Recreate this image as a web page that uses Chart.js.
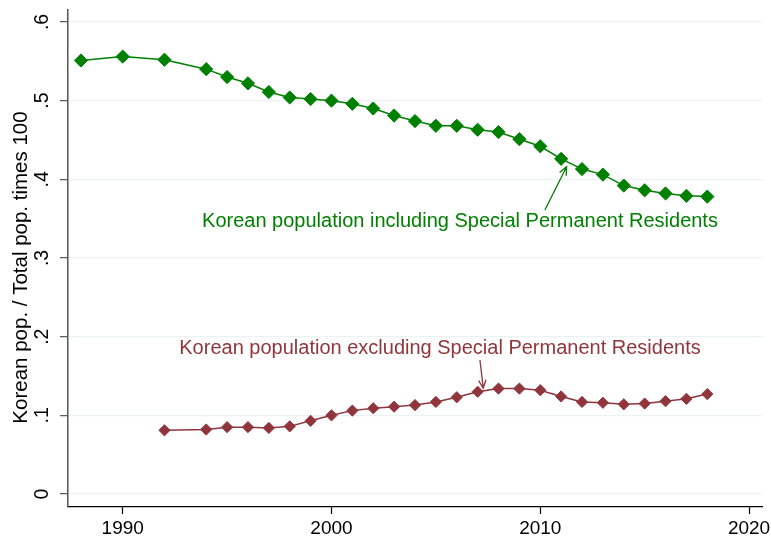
<!DOCTYPE html>
<html>
<head>
<meta charset="utf-8">
<script src="https://cdn.jsdelivr.net/npm/chart.js@4.4.1/dist/chart.umd.min.js"></script>
<style>
  html, body { margin: 0; padding: 0; background: #ffffff; }
  #wrap { width: 771px; height: 539px; }
</style>
</head>
<body>
<div id="wrap"><canvas id="c" width="771" height="539"></canvas></div>
<script>
// ---------------- data ----------------
const yearsIncl = [1988, 1990, 1992, 1994, 1995, 1996, 1997, 1998, 1999, 2000, 2001, 2002, 2003,
  2004, 2005, 2006, 2007, 2008, 2009, 2010, 2011, 2012, 2013, 2014, 2015, 2016, 2017, 2018];
const valuesIncl = [0.551, 0.556, 0.552, 0.540, 0.530, 0.522, 0.511, 0.504, 0.502, 0.500, 0.496, 0.490, 0.481,
  0.474, 0.468, 0.468, 0.463, 0.460, 0.451, 0.442, 0.426, 0.413, 0.406, 0.392, 0.386, 0.382, 0.379, 0.378];

const yearsExcl = [1992, 1994, 1995, 1996, 1997, 1998, 1999, 2000, 2001, 2002, 2003, 2004, 2005,
  2006, 2007, 2008, 2009, 2010, 2011, 2012, 2013, 2014, 2015, 2016, 2017, 2018];
const valuesExcl = [0.081, 0.082, 0.085, 0.085, 0.084, 0.086, 0.093, 0.100, 0.106, 0.109, 0.111, 0.113, 0.117,
  0.123, 0.130, 0.134, 0.134, 0.132, 0.124, 0.117, 0.116, 0.114, 0.115, 0.118, 0.121, 0.127];

const xTickValues = [1990, 2000, 2010, 2020];
const yTickValues = [0, 0.1, 0.2, 0.3, 0.4, 0.5, 0.6];
const yTickLabels = ['0', '.1', '.2', '.3', '.4', '.5', '.6'];

const labelIncl = 'Korean population including Special Permanent Residents';
const labelExcl = 'Korean population excluding Special Permanent Residents';
const yTitle = 'Korean pop. / Total pop. times 100';

// ---------------- styles ----------------
const GREEN = '#008000';
const RED = '#90353b';
const FONT = '"Liberation Sans", Arial, Helvetica, sans-serif';

// annotation placements (data units)
const annotations = [
  { text: labelIncl, color: GREEN, x: 1993.80, y: 0.340,
    arrowFrom: [2010.22, 0.361], arrowTo: [2011.26, 0.416] },
  { text: labelExcl, color: RED, x: 1992.71, y: 0.1776,
    arrowFrom: [2007.11, 0.1703], arrowTo: [2007.27, 0.1344] }
];

const annotationPlugin = {
  id: 'annot',
  afterDatasetsDraw(chart) {
    const ctx = chart.ctx;
    const xs = chart.scales.x, ys = chart.scales.y;
    ctx.save();
    annotations.forEach(a => {
      ctx.font = '20px ' + FONT;
      ctx.fillStyle = a.color;
      ctx.textAlign = 'left';
      ctx.textBaseline = 'alphabetic';
      ctx.fillText(a.text, xs.getPixelForValue(a.x), ys.getPixelForValue(a.y));
      const x1 = xs.getPixelForValue(a.arrowFrom[0]), y1 = ys.getPixelForValue(a.arrowFrom[1]);
      const x2 = xs.getPixelForValue(a.arrowTo[0]), y2 = ys.getPixelForValue(a.arrowTo[1]);
      ctx.strokeStyle = a.color;
      ctx.lineWidth = 1.3;
      ctx.beginPath();
      ctx.moveTo(x1, y1); ctx.lineTo(x2, y2);
      const ang = Math.atan2(y2 - y1, x2 - x1);
      const L = 9, spread = 0.42;
      ctx.moveTo(x2 - L * Math.cos(ang - spread), y2 - L * Math.sin(ang - spread));
      ctx.lineTo(x2, y2);
      ctx.lineTo(x2 - L * Math.cos(ang + spread), y2 - L * Math.sin(ang + spread));
      ctx.stroke();
    });
    // y axis title
    const ca = chart.chartArea;
    ctx.translate(ys.left + 21.5, (ca.top + ca.bottom) / 2 + 9);
    ctx.rotate(-Math.PI / 2);
    ctx.font = '20.5px ' + FONT;
    ctx.fillStyle = '#000';
    ctx.textAlign = 'center';
    ctx.textBaseline = 'middle';
    ctx.fillText(yTitle, 0, 0);
    ctx.restore();
  }
};

const bgPlugin = {
  id: 'bg',
  beforeDraw(chart) {
    const ctx = chart.ctx;
    ctx.save();
    ctx.fillStyle = '#ffffff';
    ctx.fillRect(0, 0, chart.width, chart.height);
    ctx.restore();
  }
};

new Chart(document.getElementById('c'), {
  type: 'line',
  data: {
    datasets: [
      {
        label: labelIncl,
        data: yearsIncl.map((yr, i) => ({ x: yr, y: valuesIncl[i] })),
        borderColor: GREEN, backgroundColor: GREEN,
        borderWidth: 1.5,
        pointStyle: 'rectRot', pointRadius: 6.6, pointBorderWidth: 1,
        pointBackgroundColor: GREEN, pointBorderColor: GREEN,
        tension: 0, fill: false
      },
      {
        label: labelExcl,
        data: yearsExcl.map((yr, i) => ({ x: yr, y: valuesExcl[i] })),
        borderColor: RED, backgroundColor: RED,
        borderWidth: 1.5,
        pointStyle: 'rectRot', pointRadius: 5.6, pointBorderWidth: 1,
        pointBackgroundColor: RED, pointBorderColor: RED,
        tension: 0, fill: false
      }
    ]
  },
  options: {
    responsive: false,
    animation: false,
    devicePixelRatio: 1,
    layout: { padding: { left: 0, right: 9, top: 10, bottom: 0 } },
    plugins: {
      legend: { display: false },
      tooltip: { enabled: false }
    },
    scales: {
      x: {
        type: 'linear',
        min: 1987.38, max: 2020.62,
        afterBuildTicks: s => { s.ticks = xTickValues.map(v => ({ value: v })); },
        afterFit: s => { s.height = 32; s.paddingLeft = 0; s.paddingRight = 0; },
        grid: { display: true, drawOnChartArea: false, drawTicks: true, tickLength: 7,
                tickColor: '#000', tickWidth: 1.2 },
        border: { display: true, color: '#000', width: 1.2 },
        ticks: { color: '#000', font: { family: FONT, size: 19 }, padding: 3,
                 maxRotation: 0, minRotation: 0,
                 callback: v => String(v) }
      },
      y: {
        type: 'linear',
        min: -0.0165, max: 0.6152,
        afterBuildTicks: s => { s.ticks = yTickValues.map(v => ({ value: v })); },
        afterFit: s => { s.width = 68; s.paddingTop = 0; s.paddingBottom = 0; },
        grid: { display: true, drawOnChartArea: true, drawTicks: true, tickLength: 8,
                color: '#eaf2f3', lineWidth: 1.3, tickColor: '#555', tickWidth: 1.2 },
        border: { display: true, color: '#555', width: 1.5 },
        ticks: { color: '#000', font: { family: FONT, size: 19.5 }, padding: 9,
                 minRotation: 90, maxRotation: 90, crossAlign: 'center',
                 callback: v => { const i = yTickValues.findIndex(t => Math.abs(t - v) < 1e-9); return i >= 0 ? yTickLabels[i] : ''; } }
      }
    }
  },
  plugins: [bgPlugin, annotationPlugin]
});
</script>
</body>
</html>
